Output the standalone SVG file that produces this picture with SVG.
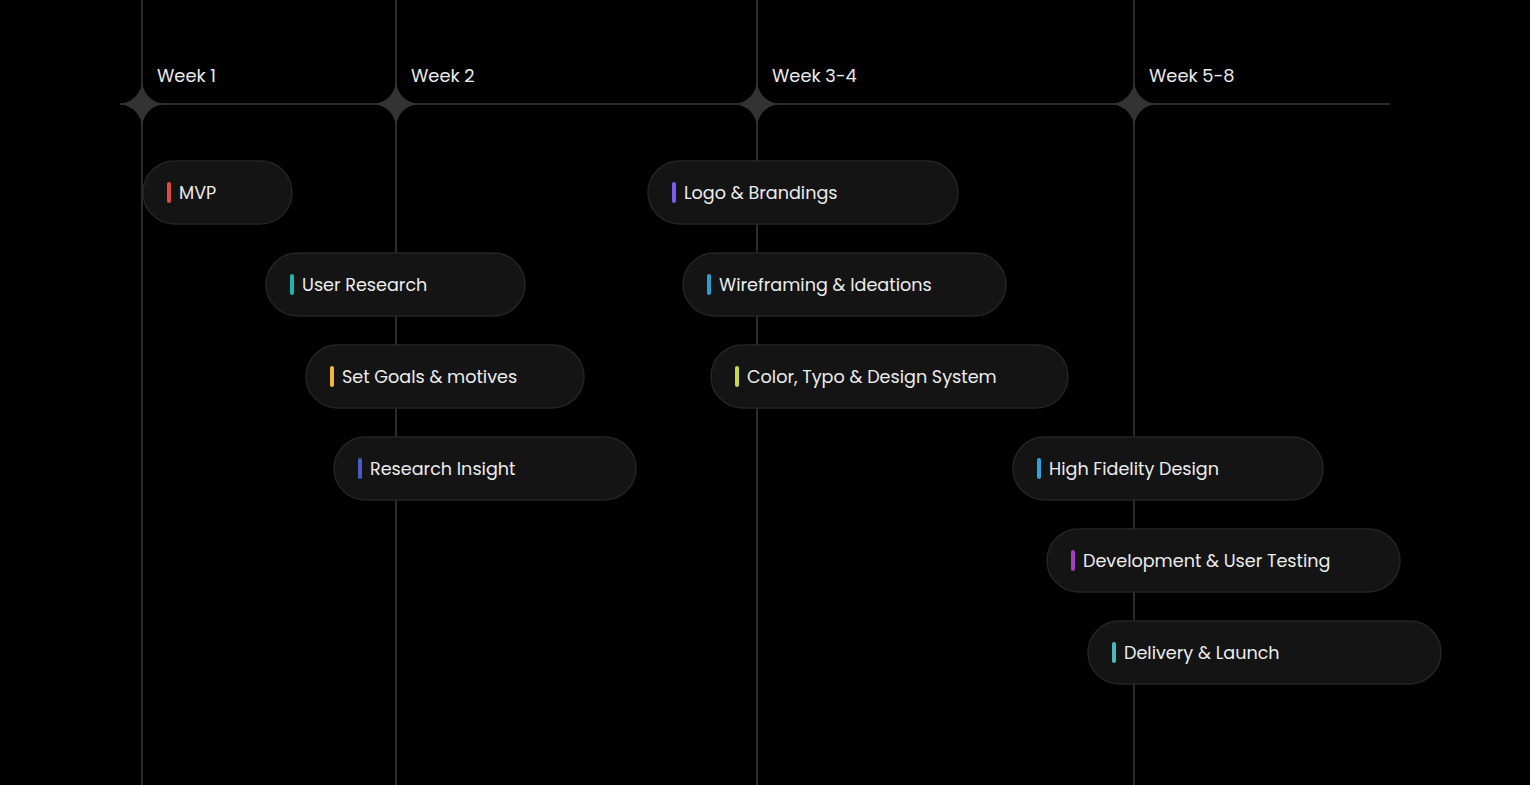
<svg xmlns="http://www.w3.org/2000/svg" width="1530" height="785" viewBox="0 0 1530 785">
<defs>
<style>
.ln{stroke:#3a3a3a;stroke-width:1.5;fill:none}
.star{fill:#333}
.wk{font-family:Poppins,"Inter","Liberation Sans",sans-serif;font-size:17.8px;fill:#ececec}
.pill{fill:#141414;stroke:#242424;stroke-width:1.5}
.lbl{font-family:Poppins,"Inter","Liberation Sans",sans-serif;font-size:17.6px;fill:#ececec}
</style>
<path id="st" d="M0,-22 Q3,-3 22,0 Q3,3 0,22 Q-3,3 -22,0 Q-3,-3 0,-22Z"/>
</defs>
<rect width="1530" height="785" fill="#000"/>
<g id="axis">
<line class="ln" x1="120" y1="104" x2="1390" y2="104"/>
<line class="ln" x1="142" y1="0" x2="142" y2="785"/>
<line class="ln" x1="396" y1="0" x2="396" y2="785"/>
<line class="ln" x1="757" y1="0" x2="757" y2="785"/>
<line class="ln" x1="1134" y1="0" x2="1134" y2="785"/>
<use href="#st" class="star" x="142" y="104"/>
<use href="#st" class="star" x="396" y="104"/>
<use href="#st" class="star" x="757" y="104"/>
<use href="#st" class="star" x="1134" y="104"/>
<text class="wk" x="157" y="82">Week 1</text>
<text class="wk" x="411" y="82">Week 2</text>
<text class="wk" x="772" y="82">Week 3-4</text>
<text class="wk" x="1149" y="82">Week 5-8</text>
</g>
<g id="mvp"><rect class="pill" x="143" y="161" width="149" height="63" rx="31.5"/><rect x="167" y="182" width="4" height="21" rx="2" fill="#e5483f"/><text class="lbl" x="179" y="199">MVP</text></g>
<g id="user-research"><rect class="pill" x="266" y="253" width="259" height="63" rx="31.5"/><rect x="290" y="274" width="4" height="21" rx="2" fill="#1fb5ad"/><text class="lbl" x="302" y="291">User Research</text></g>
<g id="set-goals"><rect class="pill" x="306" y="345" width="278" height="63" rx="31.5"/><rect x="330" y="366" width="4" height="21" rx="2" fill="#f4b53f"/><text class="lbl" x="342" y="383">Set Goals &amp; motives</text></g>
<g id="research-insight"><rect class="pill" x="334" y="437" width="302" height="63" rx="31.5"/><rect x="358" y="458" width="4" height="21" rx="2" fill="#4a5cc6"/><text class="lbl" x="370" y="475">Research Insight</text></g>
<g id="logo"><rect class="pill" x="648" y="161" width="310" height="63" rx="31.5"/><rect x="672" y="182" width="4" height="21" rx="2" fill="#7b5cf0"/><text class="lbl" x="684" y="199">Logo &amp; Brandings</text></g>
<g id="wireframing"><rect class="pill" x="683" y="253" width="323" height="63" rx="31.5"/><rect x="707" y="274" width="4" height="21" rx="2" fill="#2a9fcf"/><text class="lbl" x="719" y="291">Wireframing &amp; Ideations</text></g>
<g id="color-typo"><rect class="pill" x="711" y="345" width="357" height="63" rx="31.5"/><rect x="735" y="366" width="4" height="21" rx="2" fill="#c6d84a"/><text class="lbl" x="747" y="383">Color, Typo &amp; Design System</text></g>
<g id="high-fidelity"><rect class="pill" x="1013" y="437" width="310" height="63" rx="31.5"/><rect x="1037" y="458" width="4" height="21" rx="2" fill="#2aa6d9"/><text class="lbl" x="1049" y="475">High Fidelity Design</text></g>
<g id="development"><rect class="pill" x="1047" y="529" width="353" height="63" rx="31.5"/><rect x="1071" y="550" width="4" height="21" rx="2" fill="#a53ec6"/><text class="lbl" x="1083" y="567">Development &amp; User Testing</text></g>
<g id="delivery"><rect class="pill" x="1088" y="621" width="353" height="63" rx="31.5"/><rect x="1112" y="642" width="4" height="21" rx="2" fill="#4ab8be"/><text class="lbl" x="1124" y="659">Delivery &amp; Launch</text></g>
</svg>
